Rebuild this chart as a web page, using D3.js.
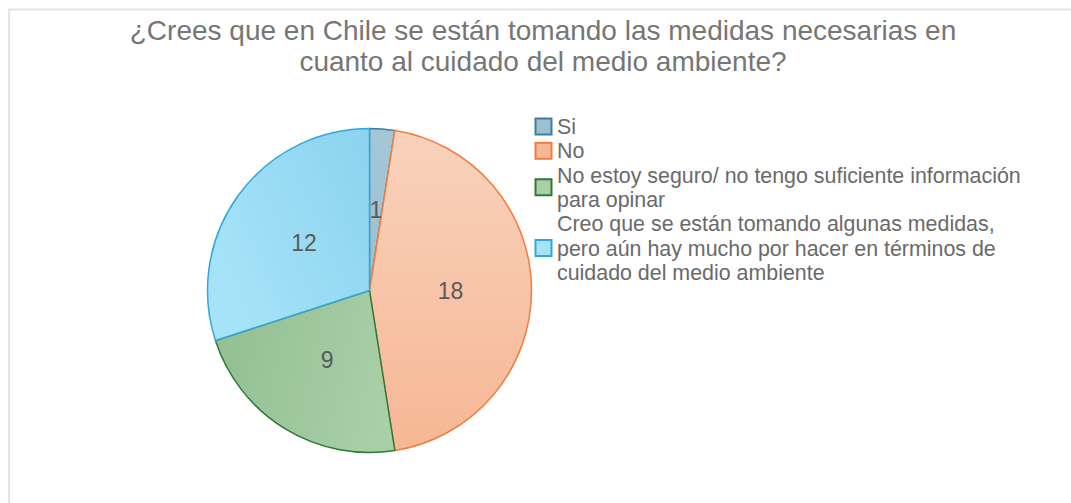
<!DOCTYPE html>
<html>
<head>
<meta charset="utf-8">
<script src="https://cdn.jsdelivr.net/npm/d3@7"></script>
<style>
  body { margin: 0; background: #fff; }
  svg { display: block; font-family: "Liberation Sans", Arial, sans-serif; }
</style>
</head>
<body>
<svg width="1071" height="503"></svg>
<script>
// data
const titleLines = ["¿Crees que en Chile se están tomando las medidas necesarias en",
                    "cuanto al cuidado del medio ambiente?"];
const categories = ["Si", "No",
                    "No estoy seguro/ no tengo suficiente información para opinar",
                    "Creo que se están tomando algunas medidas, pero aún hay mucho por hacer en términos de cuidado del medio ambiente"];
const legendLines = [["Si"], ["No"],
                     ["No estoy seguro/ no tengo suficiente información", "para opinar"],
                     ["Creo que se están tomando algunas medidas,", "pero aún hay mucho por hacer en términos de", "cuidado del medio ambiente"]];
const values = [1, 18, 9, 12];

const strokes = ["#3d7f9e", "#ee7e42", "#2f7a33", "#35a6dc"];
const gradStops = [["#a4c7d7", "#9cc0d1"], ["#f9d2bc", "#f6b794"], ["#93bf93", "#a9cfa9"], ["#8bd3ef", "#a6e3f8"]];
const gradDir = [[0, 0, 0, 1], [0, 0, 0, 1], [0, 0.3, 1, 0.5], [1, 0, 0, 0.6]];

const svg = d3.select("svg");

svg.append("rect")
  .attr("x", 9).attr("y", 9.5)
  .attr("width", 1080).attr("height", 520)
  .attr("fill", "none")
  .attr("stroke", "#e4e4e4")
  .attr("stroke-width", 2);

svg.append("g").selectAll("text")
  .data(titleLines)
  .join("text")
  .attr("x", 543)
  .attr("y", (d, i) => 40 + i * 31)
  .attr("text-anchor", "middle")
  .attr("font-size", 28)
  .attr("fill", "#767676")
  .text(d => d);

const cx = 369.5, cy = 290.5, R = 162;
const pie = d3.pie().sort(null)(values);
const arc = d3.arc().innerRadius(0).outerRadius(R);
const labelArc = d3.arc().innerRadius(R * 0.5).outerRadius(R * 0.5);

const defs = svg.append("defs");
values.forEach((v, i) => {
  const g = defs.append("linearGradient").attr("id", "grad" + i)
    .attr("x1", gradDir[i][0]).attr("y1", gradDir[i][1])
    .attr("x2", gradDir[i][2]).attr("y2", gradDir[i][3]);
  g.append("stop").attr("offset", 0).attr("stop-color", gradStops[i][0]);
  g.append("stop").attr("offset", 1).attr("stop-color", gradStops[i][1]);
  defs.append("clipPath").attr("id", "clip" + i)
    .append("path").attr("d", arc(pie[i]));
});

const pieG = svg.append("g").attr("transform", `translate(${cx},${cy})`);
pieG.selectAll("path")
  .data(pie)
  .join("path")
  .attr("d", arc)
  .attr("fill", (d, i) => `url(#grad${i})`)
  .attr("stroke", (d, i) => strokes[i])
  .attr("stroke-width", 1.5)
  .attr("stroke-linejoin", "round");

// labels clipped to their own slice (the "1" is cut off in the original)
pieG.selectAll("g.lbl")
  .data(pie)
  .join("g")
  .attr("class", "lbl")
  .attr("clip-path", (d, i) => `url(#clip${i})`)
  .append("text")
  .attr("transform", d => `translate(${labelArc.centroid(d)})`)
  .attr("text-anchor", "middle")
  .attr("dy", "0.36em")
  .attr("font-size", 23)
  .attr("fill", "#5a5a5a")
  .text(d => d.data);

// legend
const lineH = 24.3;
let y0 = 134;
const legend = svg.append("g");
legendLines.forEach((lines, i) => {
  const g = legend.append("g");
  const top = y0;
  g.selectAll("text")
    .data(lines)
    .join("text")
    .attr("x", 557)
    .attr("y", (d, j) => top + j * lineH)
    .attr("font-size", 21.4)
    .attr("fill", "#6a6a6a")
    .text(d => d);
  const mid = top - 7.5 + (lines.length - 1) * lineH / 2;
  g.append("rect")
    .attr("x", 535.5).attr("y", mid - 8)
    .attr("width", 16).attr("height", 16)
    .attr("fill", gradStops[i][1])
    .attr("stroke", strokes[i])
    .attr("stroke-width", 2);
  y0 += lines.length * lineH;
});
</script>
</body>
</html>
